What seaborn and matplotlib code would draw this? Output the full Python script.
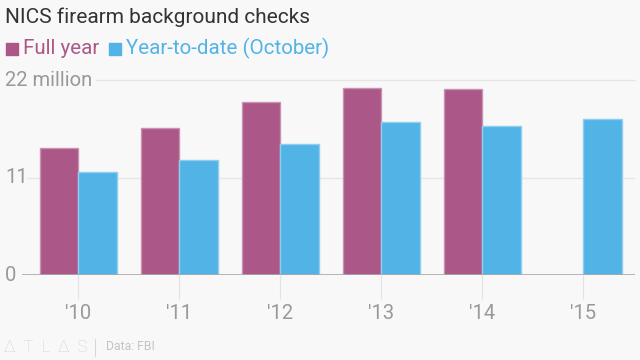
import matplotlib
matplotlib.use("Agg")
import matplotlib.pyplot as plt
import seaborn as sns
import pandas as pd
import numpy as np

years = ["'10", "'11", "'12", "'13", "'14", "'15"]
full_year = [14.4, 16.6, 19.6, 21.1, 21.0, np.nan]
ytd_october = [11.6, 13.0, 14.8, 17.3, 16.9, 17.6]
series_names = ["Full year", "Year-to-date (October)"]
y_ticks = [0, 11, 22]
y_tick_labels = ["0", "11", "22 million"]

purple = "#AB5787"
blue = "#52B3E6"
bg = "#F8F8F8"

df = pd.DataFrame({
    "year": years * 2,
    "series": [series_names[0]] * len(years) + [series_names[1]] * len(years),
    "value": full_year + ytd_october,
})

sns.set_theme(style="white")
plt.rcParams["font.family"] = ["Roboto", "DejaVu Sans"]

fig = plt.figure(figsize=(6.4, 3.6), dpi=100, facecolor=bg)
ax = fig.add_axes([22 / 640, (360 - 275.3) / 360, 613 / 640, 195 / 360])
ax.set_facecolor(bg)

sns.barplot(data=df, x="year", y="value", hue="series", order=years,
            hue_order=series_names, palette=[purple, blue], width=0.76,
            saturation=1, ax=ax, legend=False, linewidth=0)

for p in ax.patches:
    fc = p.get_facecolor()
    light = tuple(min(1, c + (1 - c) * 0.35) for c in fc[:3])
    p.set_edgecolor(light)
    p.set_linewidth(1.0)

ax.set_xlim(-0.557, 5.51)
ax.set_ylim(0, 22)
for s in ax.spines.values():
    s.set_visible(False)
ax.axhline(0, color="#a8a8a8", lw=1.2, zorder=5)
ax.axhline(11, xmin=5 / 613, xmax=1, color="#e6e6e6", lw=1, zorder=0)
ax.axhline(22, xmin=74 / 613, xmax=1, color="#e6e6e6", lw=1, zorder=0, clip_on=False)

ax.set_yticks([])
ax.set_xlabel("")
ax.set_ylabel("")
ax.tick_params(axis="x", length=17, width=0.8, color="#e2e2e2", pad=4,
               labelsize=14.5, labelcolor="#999999", bottom=True)

for v, lab in zip(y_ticks, y_tick_labels):
    ax.text(-17 / 613, v, lab, transform=ax.get_yaxis_transform(),
            ha="left", va="center", fontsize=14.5, color="#999999")

fig.text(5 / 640, 1 - 17 / 360, "NICS firearm background checks", fontsize=15,
         color="#333333", va="center", ha="left")

# legend
fig.patches.append(plt.Rectangle((6 / 640, 1 - 55 / 360), 12 / 640, 12 / 360,
                                 transform=fig.transFigure, color=purple))
fig.text(23 / 640, 1 - 48.5 / 360, series_names[0], fontsize=14.8, color=purple,
         va="center", ha="left")
fig.patches.append(plt.Rectangle((109 / 640, 1 - 55 / 360), 12 / 640, 12 / 360,
                                 transform=fig.transFigure, color=blue))
fig.text(126 / 640, 1 - 48.5 / 360, series_names[1], fontsize=14.8, color=blue,
         va="center", ha="left")

# footer
fig.text(4 / 640, 1 - 347 / 360, "\u0394  T  L  \u0394  S", fontsize=12, color="#d2d2d2",
         va="center", ha="left", fontweight="light")
fig.add_artist(plt.Line2D([95 / 640, 95 / 640], [1 - 339 / 360, 1 - 356 / 360],
                          color="#d8d8d8", lw=0.8, transform=fig.transFigure))
fig.text(106 / 640, 1 - 347 / 360, "Data: FBI", fontsize=8.8, color="#c4c4c4",
         va="center", ha="left")

fig.savefig("out.png", dpi=100, facecolor=bg)
